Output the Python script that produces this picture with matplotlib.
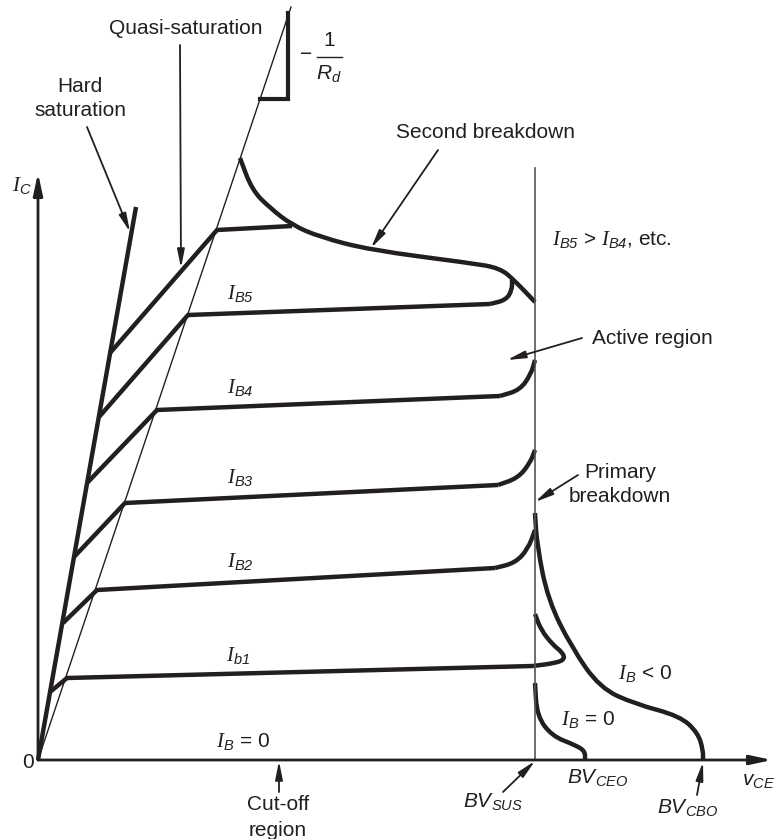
import matplotlib
matplotlib.use('Agg')
import numpy as np
from matplotlib import pyplot as plt
from matplotlib.path import Path
from matplotlib.patches import PathPatch

plt.rcParams['font.family'] = ['Liberation Sans', 'DejaVu Sans']
plt.rcParams['mathtext.fontset'] = 'custom'
plt.rcParams['mathtext.rm'] = 'Liberation Sans'
plt.rcParams['mathtext.it'] = 'Liberation Serif:italic'
plt.rcParams['mathtext.sf'] = 'Liberation Sans:italic'

# all coordinates are in picture pixels (x right, y down)
origin = (38, 760)
hard_sat = [(38, 760), (136, 207)]
load_line = [(38, 760), (291, 7)]
slope_tri = [(260, 99), (288, 99), (288, 13)]
bv_sus_x = 535

# base current curves: straight part (hard-sat kink -> knee -> flat),
# then the bent part near breakdown
ib1_straight = [(50, 692), (67, 678), (533, 666)]
ib1_bend = [(533, 666), (556, 663), (565, 659), (562, 652), (553, 645),
            (541, 630), (535, 614)]
ib2_straight = [(63, 623), (97, 590), (495, 568)]
ib2_bend = [(495, 568), (515, 563), (528, 549), (535, 530)]
ib3_straight = [(74, 557), (125, 503), (498, 485)]
ib3_bend = [(498, 485), (518, 478), (530, 463), (535, 450)]
ib4_straight = [(87, 483), (157, 410), (500, 396)]
ib4_bend = [(500, 396), (520, 390), (531, 374), (535, 360)]
ib5_straight = [(99, 417), (188, 315), (490, 304)]
ib5_bend = [(490, 304), (506, 300), (512, 290), (512, 280)]
ib6_straight = [(110, 353), (217, 230), (292, 226)]
second_bd = [(240, 158), (252, 190), (270, 208), (292, 225), (320, 237),
             (370, 250), (470, 263), (500, 268), (515, 281), (535, 302)]
ib_neg = [(535, 513), (537, 545), (548, 600), (572, 648), (600, 688),
          (635, 704), (680, 716), (698, 733), (703, 750), (703, 760)]
ib_zero = [(535, 683), (537, 716), (552, 736), (575, 745), (585, 751), (585, 760)]

straight_curves = [hard_sat, ib1_straight, ib2_straight, ib3_straight,
                   ib4_straight, ib5_straight, ib6_straight]
smooth_curves = [ib1_bend, ib2_bend, ib3_bend, ib4_bend, ib5_bend,
                 second_bd, ib_neg, ib_zero]

# (tail, tip)
arrows = [((87, 127), (130, 232)), ((180, 45), (181, 268)),
          ((438, 150), (371, 248)), ((582, 338), (507, 360)),
          ((578, 475), (535, 502)), ((503, 792), (535, 761)),
          ((697, 795), (703, 762)), ((279, 792), (279, 761))]

labels = [
    ('Quasi-saturation', 186, 28), ('Hard', 80, 86), ('saturation', 80, 110),
    (r'$I_{\mathsf{C}}$', 22, 185), ('0', 28, 763),
    (r'$I_{\mathsf{B}}$ = 0', 243, 742), ('Cut-off', 278, 805), ('region', 278, 830),
    (r'$I_{\mathsf{b1}}$', 238, 655), (r'$I_{\mathsf{B2}}$', 240, 562),
    (r'$I_{\mathsf{B3}}$', 240, 477), (r'$I_{\mathsf{B4}}$', 240, 388),
    (r'$I_{\mathsf{B5}}$', 240, 294), ('Active region', 652, 338),
    ('Primary', 620, 473), ('breakdown', 620, 497), ('Second breakdown', 486, 133),
    (r'$I_{\mathsf{B}}$ < 0', 645, 673), (r'$I_{\mathsf{B}}$ = 0', 588, 719),
    (r'$\mathsf{BV}_{\mathsf{CEO}}$', 598, 778), (r'$\mathsf{BV}_{\mathsf{SUS}}$', 493, 802),
    (r'$\mathsf{BV}_{\mathsf{CBO}}$', 688, 807),
]

ink = '#231f20'


def smooth_path(pts):
    # quadratic bezier through midpoints, points act as control points
    pts = np.asarray(pts, float)
    verts = [pts[0], (pts[0] + pts[1]) / 2]
    codes = [Path.MOVETO, Path.LINETO]
    for i in range(1, len(pts) - 1):
        verts += [pts[i], (pts[i] + pts[i + 1]) / 2]
        codes += [Path.CURVE3, Path.CURVE3]
    verts.append(pts[-1])
    codes.append(Path.LINETO)
    return Path(verts, codes)


fig = plt.figure(figsize=(7.75, 8.39), dpi=100)
ax = fig.add_axes([0, 0, 1, 1])
ax.set_xlim(0, 775)
ax.set_ylim(839, 0)
ax.axis('off')

# axes with arrow heads
for tip in [(772, 760), (38, 173)]:
    ax.annotate('', xy=tip, xytext=origin,
                arrowprops=dict(arrowstyle='-|>,head_width=0.28,head_length=1.3',
                                lw=2, color=ink, shrinkA=0, shrinkB=0))

# thin lines
ax.plot(*zip(*load_line), color=ink, lw=1)
ax.plot([bv_sus_x, bv_sus_x], [168, 760], color='#555555', lw=1.2)
ax.plot(*zip(*slope_tri), color=ink, lw=3, solid_joinstyle='miter')

for c in straight_curves:
    ax.plot(*zip(*c), color=ink, lw=3.2, solid_capstyle='butt', solid_joinstyle='round')
for c in smooth_curves:
    ax.add_patch(PathPatch(smooth_path(c), fill=False, edgecolor=ink, lw=3.2,
                           capstyle='butt', joinstyle='round'))

for tail, tip in arrows:
    ax.annotate('', xy=tip, xytext=tail,
                arrowprops=dict(arrowstyle='-|>,head_width=0.22,head_length=1.1',
                                lw=1.3, color=ink, shrinkA=0, shrinkB=0))

for s, x, y in labels:
    ax.text(x, y, s, fontsize=15, color=ink, ha='center', va='center')

ax.text(552, 240, r'$I_{\mathsf{B5}}$ > $I_{\mathsf{B4}}$, etc.', fontsize=15,
        color=ink, ha='left', va='center')
ax.text(742, 780, r'$\mathsf{v}_{\mathsf{CE}}$', fontsize=15, color=ink,
        ha='left', va='center')

# -1/R_d slope label
ax.text(306, 55, '\u2212', fontsize=15, color=ink, ha='center', va='center')
ax.text(329, 41, '1', fontsize=15, color=ink, ha='center', va='center')
ax.plot([317, 342], [57, 57], color=ink, lw=1)
ax.text(329, 74, r'$\mathsf{R}_{\mathsf{d}}$', fontsize=15, color=ink,
        ha='center', va='center')

fig.savefig('out.png', dpi=100)
